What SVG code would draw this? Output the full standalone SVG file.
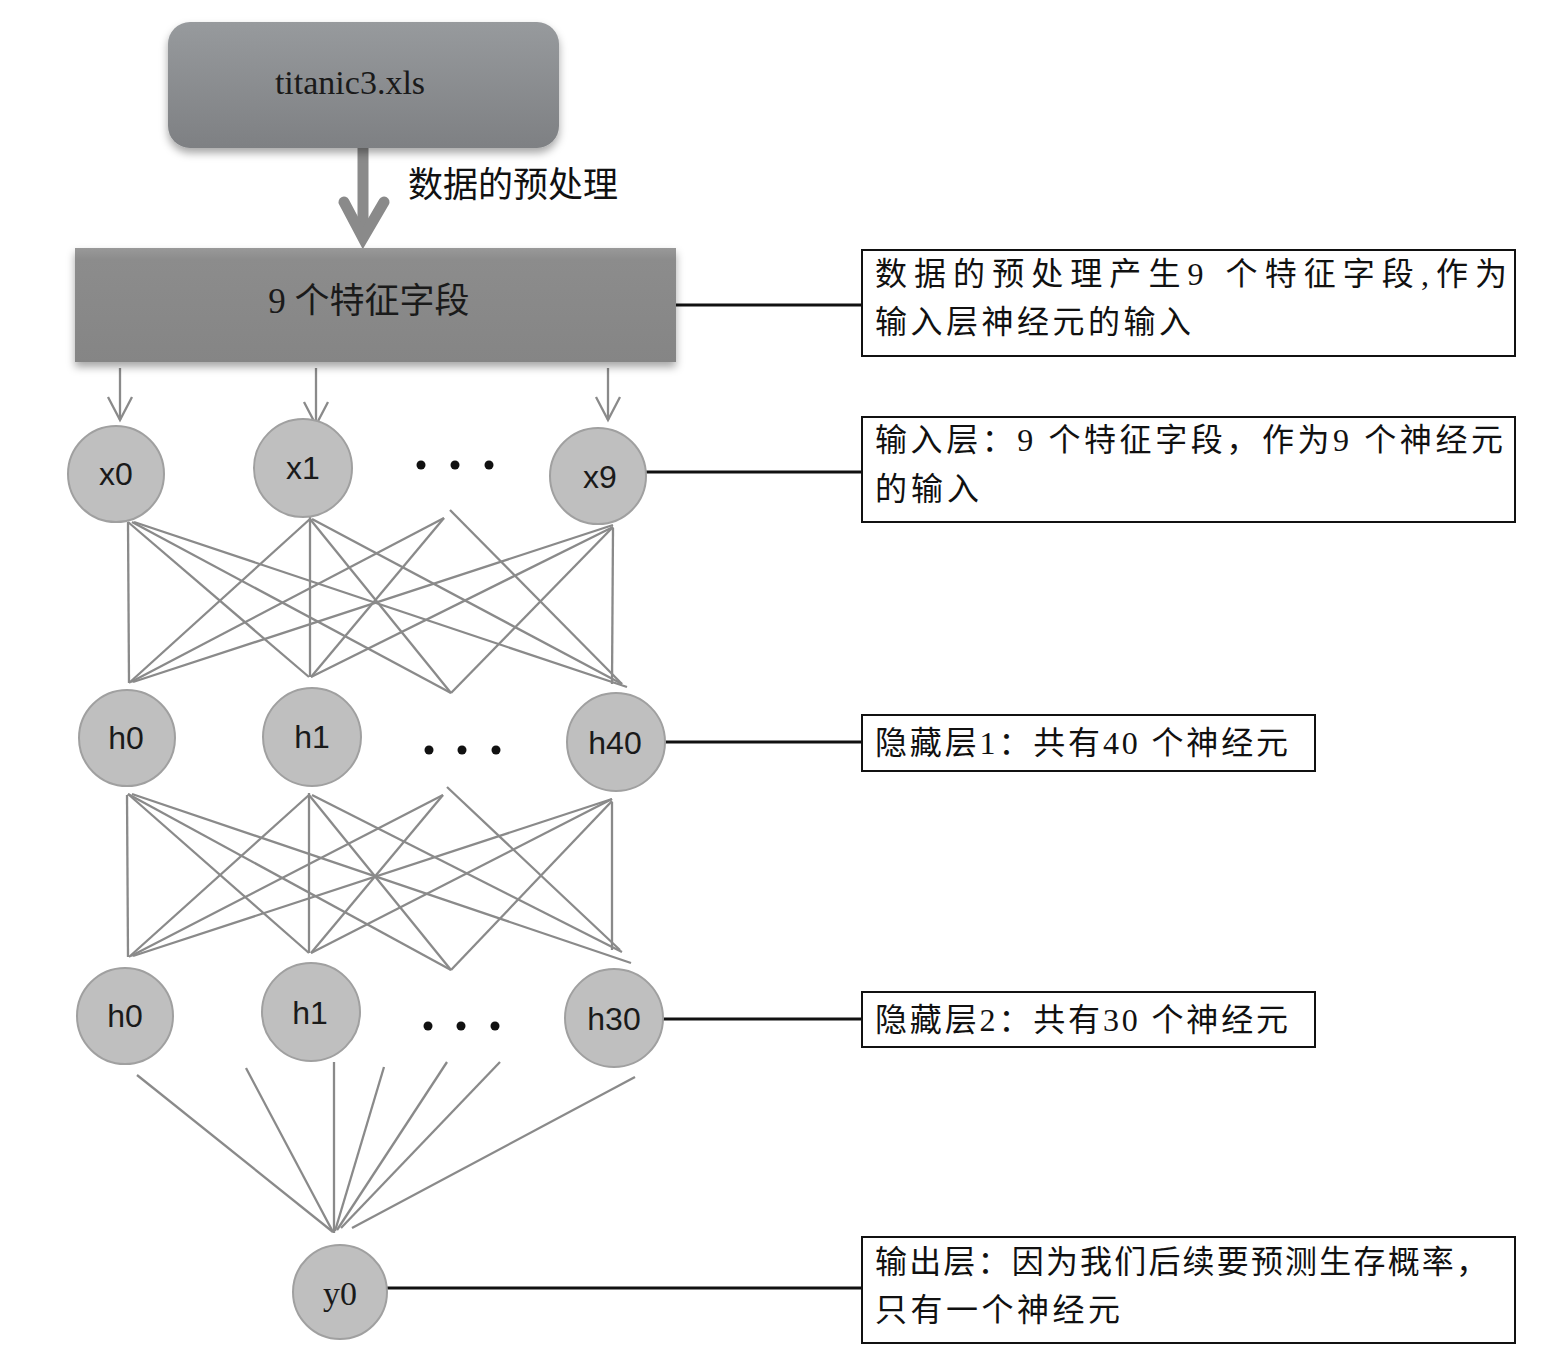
<svg xmlns="http://www.w3.org/2000/svg" width="1555" height="1367" viewBox="0 0 1555 1367">
<style>
.ann{font-family:"Liberation Serif","Noto Sans CJK SC",serif;font-size:32px;fill:#111}
.abox{fill:#fff;stroke:#111;stroke-width:2}
.lead{stroke:#111;stroke-width:3;fill:none}
.nd{fill:#bfbfbf;stroke:#a0a0a0;stroke-width:2}
.nt{font-family:"Liberation Sans",Arial,sans-serif;font-size:32px;fill:#1a1a1a;text-anchor:middle}
.cn{stroke:#8a8a8a;stroke-width:2.3;fill:none}
.dot{fill:#111}
.bt{font-family:"Liberation Serif","Noto Sans CJK SC",serif;font-size:34px;fill:#1a1a1a;text-anchor:middle}
</style>
<defs>
<linearGradient id="g1" x1="0" y1="0" x2="0" y2="1"><stop offset="0" stop-color="#979a9d"/><stop offset="1" stop-color="#7e8083"/></linearGradient>
<linearGradient id="g2" x1="0" y1="0" x2="0" y2="1"><stop offset="0" stop-color="#999999"/><stop offset="0.1" stop-color="#8c8c8c"/><stop offset="1" stop-color="#858585"/></linearGradient>
<filter id="sh" x="-10%" y="-10%" width="120%" height="130%"><feDropShadow dx="0" dy="5" stdDeviation="4" flood-color="#000" flood-opacity="0.35"/></filter>
</defs>
<rect width="1555" height="1367" fill="#fff"/>

<g id="connectors">
<line x1="363" y1="148" x2="363" y2="232" stroke="#8a8a8a" stroke-width="11"/>
<polyline points="344,202 363,238 384,202" fill="none" stroke="#8a8a8a" stroke-width="11" stroke-linecap="round" stroke-linejoin="miter"/>
<g class="cn">
<line x1="120" y1="368" x2="120" y2="420"/><polyline points="108,397 120,420 132,397"/>
<line x1="316" y1="368" x2="316" y2="425"/><polyline points="304,402 316,425 328,402"/>
<line x1="608" y1="368" x2="608" y2="420"/><polyline points="596,397 608,420 620,397"/>
</g>
<g class="cn">
<line x1="128" y1="522" x2="129" y2="683"/>
<line x1="128" y1="522" x2="309" y2="677"/>
<line x1="132" y1="522" x2="451" y2="693"/>
<line x1="134" y1="522" x2="627" y2="687"/>
<line x1="310" y1="517" x2="310" y2="677"/>
<line x1="310" y1="519" x2="129" y2="683"/>
<line x1="310" y1="519" x2="451" y2="693"/>
<line x1="312" y1="519" x2="622" y2="684"/>
<line x1="444" y1="518" x2="131" y2="682"/>
<line x1="444" y1="518" x2="311" y2="677"/>
<line x1="450" y1="510" x2="622" y2="684"/>
<line x1="613" y1="528" x2="612" y2="684"/>
<line x1="613" y1="525" x2="133" y2="682"/>
<line x1="613" y1="527" x2="311" y2="677"/>
<line x1="613" y1="527" x2="451" y2="693"/>
</g>
<g class="cn">
<line x1="127" y1="795" x2="128" y2="957"/>
<line x1="128" y1="794" x2="309" y2="953"/>
<line x1="128" y1="794" x2="451" y2="970"/>
<line x1="132" y1="794" x2="631" y2="963"/>
<line x1="309" y1="793" x2="309" y2="953"/>
<line x1="309" y1="795" x2="129" y2="957"/>
<line x1="309" y1="795" x2="451" y2="970"/>
<line x1="312" y1="795" x2="622" y2="952"/>
<line x1="443" y1="795" x2="131" y2="956"/>
<line x1="443" y1="795" x2="311" y2="953"/>
<line x1="447" y1="787" x2="620" y2="950"/>
<line x1="612" y1="802" x2="612" y2="950"/>
<line x1="612" y1="799" x2="133" y2="956"/>
<line x1="612" y1="799" x2="311" y2="953"/>
<line x1="612" y1="801" x2="451" y2="970"/>
</g>
<g class="cn">
<line x1="137" y1="1075" x2="333" y2="1232"/>
<line x1="246" y1="1068" x2="333" y2="1232"/>
<line x1="334" y1="1062" x2="334" y2="1233"/>
<line x1="384" y1="1067" x2="335" y2="1231"/>
<line x1="447" y1="1062" x2="337" y2="1230"/>
<line x1="500" y1="1062" x2="341" y2="1228"/>
<line x1="635" y1="1077" x2="352" y2="1228"/>
</g>
<g class="lead">
<line x1="672" y1="305" x2="863" y2="305"/>
<line x1="646" y1="472" x2="863" y2="472"/>
<line x1="664" y1="742" x2="863" y2="742"/>
<line x1="662" y1="1019" x2="863" y2="1019"/>
<line x1="387" y1="1288" x2="863" y2="1288"/>
</g>
</g>

<g id="n-file">
<rect x="168" y="22" width="391" height="126" rx="22" fill="url(#g1)" filter="url(#sh)"/>
<text x="350" y="94" class="bt">titanic3.xls</text>
</g>
<text id="lbl-pre" x="408" y="197" class="ann" style="font-size:35px">数据的预处理</text>

<g id="n-features">
<rect x="75" y="248" width="601" height="114" fill="url(#g2)" filter="url(#sh)"/>
<text x="369" y="313" class="bt" style="font-size:35px">9 个特征字段</text>
</g>

<g id="n-x0"><circle cx="116" cy="474" r="48" class="nd"/><text x="116" y="485" class="nt">x0</text></g>
<g id="n-x1"><circle cx="303" cy="468" r="49" class="nd"/><text x="303" y="479" class="nt">x1</text></g>
<g id="n-x9"><circle cx="598" cy="476" r="48" class="nd"/><text x="600" y="488" class="nt">x9</text></g>
<g id="dots1"><circle cx="421" cy="465" r="4.5" class="dot"/><circle cx="455" cy="465" r="4.5" class="dot"/><circle cx="489" cy="465" r="4.5" class="dot"/></g>

<g id="n-h0a"><circle cx="127" cy="738" r="48" class="nd"/><text x="126" y="749" class="nt">h0</text></g>
<g id="n-h1a"><circle cx="312" cy="737" r="49" class="nd"/><text x="312" y="748" class="nt">h1</text></g>
<g id="n-h40"><circle cx="616" cy="742" r="49" class="nd"/><text x="615" y="754" class="nt">h40</text></g>
<g id="dots2"><circle cx="429" cy="750" r="4.5" class="dot"/><circle cx="462" cy="750" r="4.5" class="dot"/><circle cx="496" cy="750" r="4.5" class="dot"/></g>

<g id="n-h0b"><circle cx="125" cy="1016" r="48" class="nd"/><text x="125" y="1027" class="nt">h0</text></g>
<g id="n-h1b"><circle cx="311" cy="1012" r="49" class="nd"/><text x="310" y="1024" class="nt">h1</text></g>
<g id="n-h30"><circle cx="614" cy="1018" r="49" class="nd"/><text x="614" y="1030" class="nt">h30</text></g>
<g id="dots3"><circle cx="428" cy="1026" r="4.5" class="dot"/><circle cx="461" cy="1026" r="4.5" class="dot"/><circle cx="495" cy="1026" r="4.5" class="dot"/></g>

<g id="n-y0"><circle cx="340" cy="1292" r="47" class="nd"/><text x="340" y="1305" class="bt">y0</text></g>

<g id="a1">
<rect x="862" y="250" width="653" height="106" class="abox"/>
<text x="875" y="285" class="ann" textLength="632" lengthAdjust="spacing">数据的预处理产生9 个特征字段,作为</text>
<text x="875" y="333" class="ann" textLength="316" lengthAdjust="spacing">输入层神经元的输入</text>
</g>
<g id="a2">
<rect x="862" y="417" width="653" height="105" class="abox"/>
<text x="875" y="451" class="ann" textLength="628" lengthAdjust="spacing">输入层：9 个特征字段，作为9 个神经元</text>
<text x="875" y="500" class="ann" textLength="104" lengthAdjust="spacing">的输入</text>
</g>
<g id="a3">
<rect x="862" y="715" width="453" height="56" class="abox"/>
<text x="875" y="754" class="ann" textLength="413" lengthAdjust="spacing">隐藏层1：共有40 个神经元</text>
</g>
<g id="a4">
<rect x="862" y="992" width="453" height="55" class="abox"/>
<text x="875" y="1031" class="ann" textLength="413" lengthAdjust="spacing">隐藏层2：共有30 个神经元</text>
</g>
<g id="a5">
<rect x="862" y="1237" width="653" height="106" class="abox"/>
<text x="875" y="1273" class="ann" textLength="613" lengthAdjust="spacing">输出层：因为我们后续要预测生存概率，</text>
<text x="875" y="1321" class="ann" textLength="245" lengthAdjust="spacing">只有一个神经元</text>
</g>
</svg>
